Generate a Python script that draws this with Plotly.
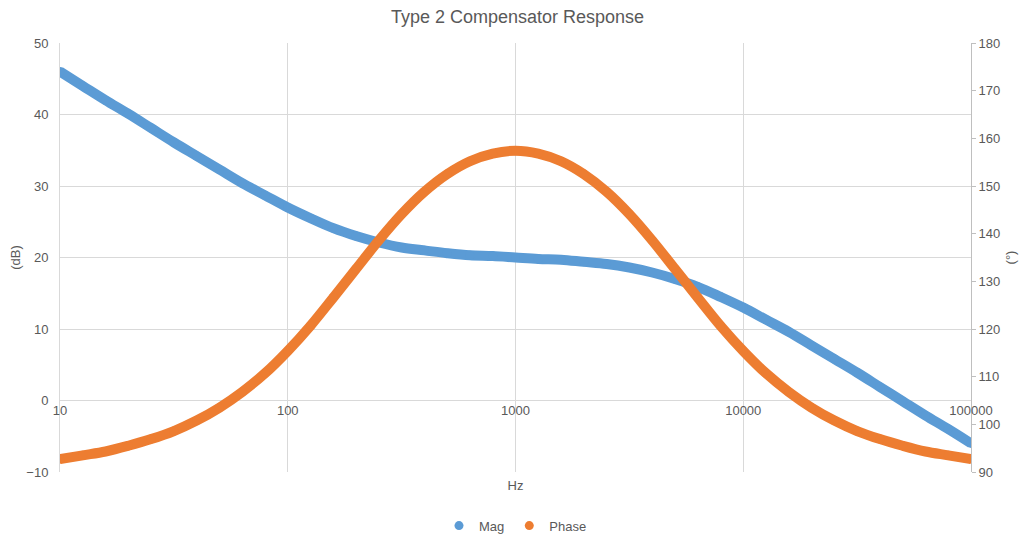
import plotly.graph_objects as go

freq_hz = [10.0, 12.59, 15.85, 19.95, 25.12, 31.62, 39.81, 50.12, 63.1, 79.43,
           100.0, 125.9, 158.5, 199.5, 251.2, 316.2, 398.1, 501.2, 631.0, 794.3,
           1000.0, 1259, 1585, 1995, 2512, 3162, 3981, 5012, 6310, 7943,
           10000, 12590, 15850, 19950, 25120, 31620, 39810, 50120, 63100, 79430, 100000]

mag_db = [46.0, 44.0, 42.0, 40.1, 38.1, 36.1, 34.2, 32.3, 30.4, 28.7,
          27.0, 25.5, 24.1, 23.0, 22.1, 21.4, 21.0, 20.6, 20.3, 20.2,
          20.0, 19.8, 19.7, 19.4, 19.1, 18.6, 17.9, 17.0, 15.9, 14.5,
          13.0, 11.3, 9.6, 7.7, 5.8, 3.9, 1.9, -0.1, -2.1, -4.0, -6.0]

phase_deg = [92.7, 93.5, 94.3, 95.5, 96.9, 98.6, 100.8, 103.5, 106.8, 110.7,
             115.4, 120.7, 126.6, 132.6, 138.6, 144.1, 148.8, 152.5, 155.2, 156.8,
             157.4, 156.8, 155.2, 152.5, 148.8, 144.1, 138.6, 132.6, 126.6, 120.7,
             115.4, 110.7, 106.8, 103.5, 100.8, 98.6, 96.9, 95.5, 94.3, 93.5, 92.7]

x_ticks = [10, 100, 1000, 10000, 100000]
x_tick_labels = ["10", "100", "1000", "10000", "100000"]

BLUE = "#5B9BD5"
ORANGE = "#ED7D31"
GREY = "#595959"
GRID = "#D9D9D9"
AXLINE = "#BFBFBF"
FONT = "Liberation Sans, Arial, sans-serif"

fig = go.Figure()
fig.add_trace(go.Scatter(x=freq_hz, y=mag_db, mode="lines+markers", name="Mag",
                         line=dict(color=BLUE, width=10, shape="spline", smoothing=1.0),
                         marker=dict(color=BLUE, size=9),
                         showlegend=False, xaxis="x", yaxis="y"))
fig.add_trace(go.Scatter(x=freq_hz, y=phase_deg, mode="lines+markers", name="Phase",
                         line=dict(color=ORANGE, width=10, shape="spline", smoothing=1.0),
                         marker=dict(color=ORANGE, size=9),
                         showlegend=False, xaxis="x", yaxis="y2"))
# invisible helper so the tick-label axis (crossing at 0 dB) is drawn
fig.add_trace(go.Scatter(x=[None], y=[None], mode="markers", showlegend=False,
                         hoverinfo="skip", xaxis="x2", yaxis="y"))
# legend entries (circles only, like the reference)
fig.add_trace(go.Scatter(x=[None], y=[None], mode="markers", name="Mag",
                         marker=dict(color=BLUE, size=9)))
fig.add_trace(go.Scatter(x=[None], y=[None], mode="markers", name="Phase",
                         marker=dict(color=ORANGE, size=9)))

# the page body adds an 8px margin, so the figure is sized/placed to compensate
fig.update_layout(
    width=1019, height=529,
    margin=dict(l=52, r=56, t=35, b=65, autoexpand=False),
    paper_bgcolor="white", plot_bgcolor="white",
    font=dict(family=FONT, size=13, color=GREY),
    title=dict(text="Type 2 Compensator Response", x=0.5, xanchor="center",
               y=1 - 9 / 529, yanchor="middle",
               font=dict(family=FONT, size=18, color=GREY)),
    xaxis=dict(type="log", range=[1, 5], tickvals=x_ticks, showticklabels=False,
               showgrid=True, gridcolor=GRID, gridwidth=1, zeroline=False,
               showline=False, ticks="", automargin=False,
               title=dict(text="Hz", standoff=8, font=dict(size=13, color=GREY))),
    xaxis2=dict(type="log", range=[1, 5], overlaying="x", anchor="free",
                position=1 / 6, side="bottom", tickmode="array",
                tickvals=x_ticks, ticktext=x_tick_labels, showgrid=False,
                zeroline=False, showline=False, ticks="", automargin=False,
                tickfont=dict(size=13, color=GREY)),
    yaxis=dict(range=[-10, 50], dtick=10, tick0=0, showgrid=True, gridcolor=GRID,
               zeroline=False, showline=True, linecolor=GRID, ticks="",
               automargin=False, ticklabelstandoff=8,
               title=dict(text="(dB)", standoff=10, font=dict(size=13, color=GREY))),
    yaxis2=dict(range=[90, 180], dtick=10, tick0=90, overlaying="y", side="right",
                showgrid=False, zeroline=False, showline=True, linecolor=AXLINE,
                ticks="outside", ticklen=4, tickcolor=AXLINE, automargin=False,
                title=dict(text="(°)", standoff=6, font=dict(size=13, color=GREY))),
    legend=dict(orientation="h", x=0.5, xanchor="center", y=-0.125, yanchor="middle",
                font=dict(size=13, color=GREY), itemwidth=30, tracegroupgap=0),
)

fig.write_html("out.html")
